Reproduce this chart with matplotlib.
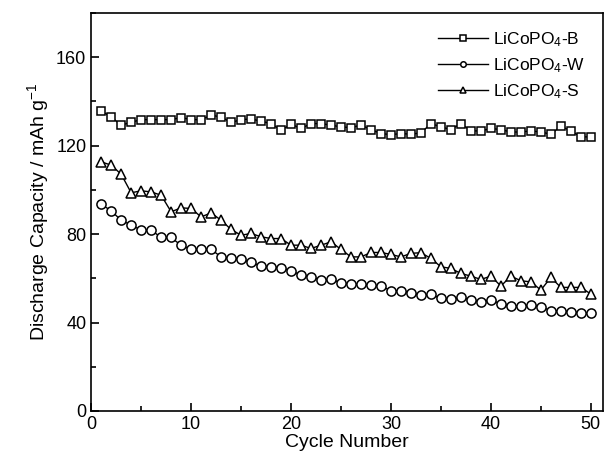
import matplotlib
matplotlib.use('Agg')
import matplotlib.pyplot as plt
from matplotlib.ticker import MultipleLocator

plt.rcParams['font.family'] = ['Liberation Sans', 'DejaVu Sans']
plt.rcParams['mathtext.fontset'] = 'custom'
plt.rcParams['mathtext.rm'] = 'Liberation Sans'
plt.rcParams['mathtext.it'] = 'Liberation Sans'

# Data
cycles = list(range(1, 51))
cap_b = [135.7, 133.0, 129.3, 130.6, 131.8, 131.8, 131.8, 131.8, 132.7, 131.8,
         131.8, 133.8, 133.0, 130.5, 131.8, 132.1, 131.1, 130.0, 127.0, 129.7,
         127.8, 130.0, 130.0, 129.3, 128.5, 128.2, 129.3, 127.3, 125.5, 125.0,
         125.5, 125.2, 125.8, 130.0, 128.5, 127.3, 130.0, 126.7, 126.7, 127.8,
         127.3, 126.2, 126.2, 126.7, 126.2, 125.2, 128.8, 126.7, 124.0, 124.0]
cap_w = [93.6, 90.5, 86.3, 84.1, 81.8, 81.8, 78.5, 78.5, 74.9, 73.1,
         73.1, 73.1, 69.7, 69.0, 68.6, 67.2, 65.5, 65.2, 64.8, 63.4,
         61.5, 60.7, 59.2, 59.5, 58.0, 57.4, 57.4, 56.9, 56.5, 54.4,
         54.4, 53.5, 52.4, 52.7, 50.9, 50.5, 51.4, 50.2, 49.4, 50.2,
         48.4, 47.5, 47.5, 47.9, 47.2, 45.3, 45.3, 44.9, 44.4, 44.1]
cap_s = [112.7, 111.2, 107.1, 98.7, 99.6, 99.1, 97.6, 90.1, 91.9, 91.6,
         87.8, 89.6, 86.3, 82.1, 79.5, 80.3, 78.8, 78.0, 78.0, 75.0,
         75.0, 73.5, 75.0, 76.5, 73.1, 69.7, 69.7, 71.7, 71.7, 70.8,
         69.7, 71.3, 71.6, 69.0, 65.2, 64.5, 62.2, 61.0, 59.5, 61.0,
         56.5, 61.0, 58.9, 58.4, 54.7, 60.4, 55.9, 55.9, 55.9, 52.9]

fig = plt.figure(figsize=(6.12, 4.67), dpi=100)
ax = fig.add_axes([0.149, 0.12, 0.836, 0.852])

ax.plot(cycles, cap_b, color='black', lw=1, marker='s', ms=6.2, mfc='white',
        mec='black', mew=1.1, label='LiCoPO$_4$-B')
ax.plot(cycles, cap_w, color='black', lw=1, marker='o', ms=6.6, mfc='white',
        mec='black', mew=1.1, label='LiCoPO$_4$-W')
ax.plot(cycles, cap_s, color='black', lw=1, marker='^', ms=7.8, mfc='white',
        mec='black', mew=1.1, label='LiCoPO$_4$-S')

ax.set_xlim(0, 51.2)
ax.set_ylim(0, 180)
ax.xaxis.set_major_locator(MultipleLocator(10))
ax.xaxis.set_minor_locator(MultipleLocator(5))
ax.yaxis.set_major_locator(MultipleLocator(40))
ax.yaxis.set_minor_locator(MultipleLocator(20))
ax.tick_params(which='both', direction='in', top=False, right=False,
               labelsize=13, width=1.2)
ax.tick_params(which='major', length=6)
ax.tick_params(which='minor', length=3.5)
for s in ax.spines.values():
    s.set_linewidth(1.2)

ax.set_xlabel('Cycle Number', fontsize=14, labelpad=1)
ax.set_ylabel('Discharge Capacity / mAh g$^{-1}$', fontsize=14, labelpad=4)

leg = ax.legend(loc='upper right', frameon=False, fontsize=12.5, markerscale=0.6,
                handlelength=2.9, handletextpad=0.3, labelspacing=0.42,
                borderaxespad=0.6)

fig.savefig('out.png', dpi=100)
